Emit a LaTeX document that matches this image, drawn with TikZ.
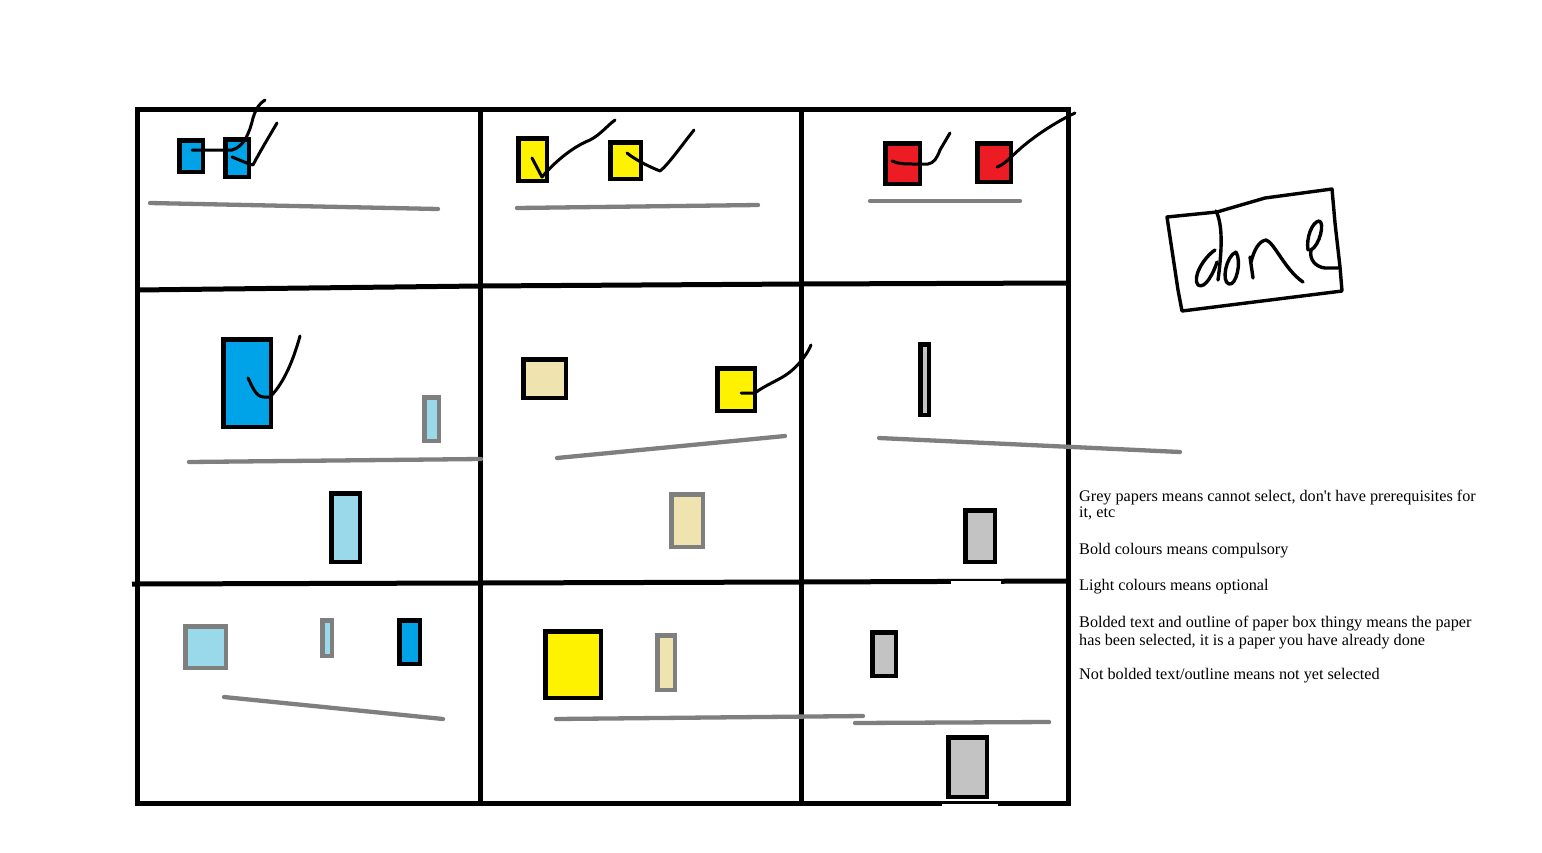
\documentclass[tikz,border=0pt]{standalone}
\usepackage{fontspec}
\setmainfont{Liberation Serif}
\newfontfamily\notefont{Liberation Serif}
\definecolor{pblue}{HTML}{00A2E8}
\definecolor{plblue}{HTML}{99D9EA}
\definecolor{pyellow}{HTML}{FFF200}
\definecolor{pbeige}{HTML}{EFE4B0}
\definecolor{pred}{HTML}{ED1C24}
\definecolor{pgrey}{HTML}{7F7F7F}
\definecolor{plgrey}{HTML}{C3C3C3}
\newcommand\paperbox[6]{\draw[paper,draw=#6,fill=#5] (#1+2.25,#2+2.25) rectangle (#3-2.25,#4-2.25);}
\begin{document}
\begin{tikzpicture}[x=1pt,y=-1pt,
  frame/.style={line width=5pt},
  paper/.style={line width=4.5pt},
  rule/.style={draw=pgrey,line width=4.3pt,line cap=round},
  tick/.style={line width=3pt,line cap=round,line join=round},
  hand/.style={line width=3.4pt,line cap=round,line join=round},
  note/.style={anchor=base west,inner sep=0pt,font=\notefont\fontsize{16.2}{18}\selectfont}]
\useasboundingbox (0,0) rectangle (1542,852);
\fill[white] (0,0) rectangle (1542,852);

% grid
\draw[frame] (137,109) rectangle (1068.5,803.5);
\draw[frame] (480,109) -- (480,803.5);
\draw[frame] (801,109) -- (801,803.5);
\draw[frame] (137,290) -- (480,286) -- (801,284) -- (1068.5,283);
\draw[frame] (132,584) -- (480,583) -- (801,582) -- (1068.5,581);
\fill[white] (951,581.3) rectangle (1001,586);
\fill[white] (942,803.5) rectangle (998,807);

% row 1
\paperbox{177}{138}{205}{174}{pblue}{black}
\paperbox{223}{137}{251}{179}{pblue}{black}
\paperbox{516}{136}{549}{183}{pyellow}{black}
\paperbox{608}{140}{643}{181}{pyellow}{black}
\paperbox{883}{141}{922}{186}{pred}{black}
\paperbox{975}{141}{1013}{184}{pred}{black}
% row 2
\paperbox{221}{337}{273}{429}{pblue}{black}
\paperbox{422}{395}{441}{443}{plblue}{pgrey}
\paperbox{329}{491}{362}{564}{plblue}{black}
\paperbox{521}{357}{568}{400}{pbeige}{black}
\paperbox{715}{366}{757}{413}{pyellow}{black}
\paperbox{669}{492}{705}{549}{pbeige}{pgrey}
\paperbox{918}{342}{931}{417}{plgrey}{black}
\paperbox{963}{508}{997}{564}{plgrey}{black}
% row 3
\paperbox{183}{624}{228}{670}{plblue}{pgrey}
\paperbox{320}{618}{334}{658}{plblue}{pgrey}
\paperbox{397}{618}{422}{666}{pblue}{black}
\paperbox{543}{629}{603}{700}{pyellow}{black}
\paperbox{655}{633}{677}{692}{pbeige}{pgrey}
\paperbox{870}{630}{898}{678}{plgrey}{black}
\paperbox{946}{735}{989}{799}{plgrey}{black}

% grey rules
\draw[rule] (150,203) -- (438,209);
\draw[rule] (517,208) -- (758,205);
\draw[rule] (870,201) -- (1020,201);
\draw[rule] (189,462) -- (481,459);
\draw[rule] (557,458) -- (785,436);
\draw[rule] (879,438) -- (1180,452);
\draw[rule] (224,697) -- (443,719);
\draw[rule] (556,719) -- (863,716);
\draw[rule] (855,723) -- (1049,722);

% ticks
\draw[tick] (192,150) -- (232,150) .. controls (243,147) and (249,135) .. (253,118) .. controls (256,108) and (260,103) .. (265,100);
\draw[tick] (232,157) .. controls (240,160) and (248,164) .. (253,165) .. controls (258,155) and (270,135) .. (277,123);
\draw[tick] (532,158) -- (542,177) .. controls (552,165) and (570,148) .. (590,140) .. controls (600,135) and (608,125) .. (615,120);
\draw[tick] (627,153) .. controls (633,158) and (645,165) .. (660,171) .. controls (668,165) and (682,145) .. (694,130);
\draw[tick] (892,161) .. controls (898,164) and (905,164) .. (915,164) -- (928,164) .. controls (934,163) and (937,158) .. (940,150) -- (950,133);
\draw[tick] (997,167) .. controls (1005,165) and (1015,152) .. (1027,143) .. controls (1042,131) and (1060,120) .. (1075,113);
\draw[tick] (248,378) .. controls (253,388) and (256,397) .. (264,397) -- (270,397) .. controls (282,385) and (292,365) .. (300,336);
\draw[tick] (741,393) -- (755,393) .. controls (765,385) and (780,380) .. (790,372) .. controls (802,362) and (808,352) .. (811,345);

% done box
\draw[hand] (1167,217) -- (1217,212) -- (1265,198) -- (1332,189) -- (1335,223) -- (1340,267) -- (1342,291) -- (1182,311) -- (1178,290) -- (1170,237) -- cycle;
\draw[hand] (1216,211) .. controls (1223,225) and (1222,250) .. (1218,280);
\draw[hand] (1215,250) .. controls (1203,258) and (1192,278) .. (1198,285) .. controls (1205,290) and (1214,272) .. (1217,262);
\draw[hand] (1236,252) .. controls (1226,256) and (1221,282) .. (1229,284) .. controls (1236,286) and (1242,262) .. (1236,252);
\draw[hand] (1250,257) -- (1253,278);
\draw[hand] (1251,262) .. controls (1254,250) and (1259,241) .. (1266,240) .. controls (1274,242) and (1285,270) .. (1303,282);
\draw[hand] (1308,250) .. controls (1306,238) and (1312,222) .. (1319,221) .. controls (1325,222) and (1320,245) .. (1311,250) .. controls (1309,260) and (1316,267) .. (1325,268) -- (1338,268);

% notes
\node[note] (t1) at (1079,501) {Grey papers means cannot select, don't have prerequisites for};
\node[note] (t2) at (1079,517) {it, etc};
\node[note] (t3) at (1079,554) {Bold colours means compulsory};
\node[note] (t4) at (1079,590) {Light colours means optional};
\node[note] (t5) at (1079,627) {Bolded text and outline of paper box thingy means the paper};
\node[note] (t6) at (1079,645) {has been selected, it is a paper you have already done};
\node[note] (t7) at (1079,679) {Not bolded text/outline means not yet selected};
\end{tikzpicture}
\end{document}
